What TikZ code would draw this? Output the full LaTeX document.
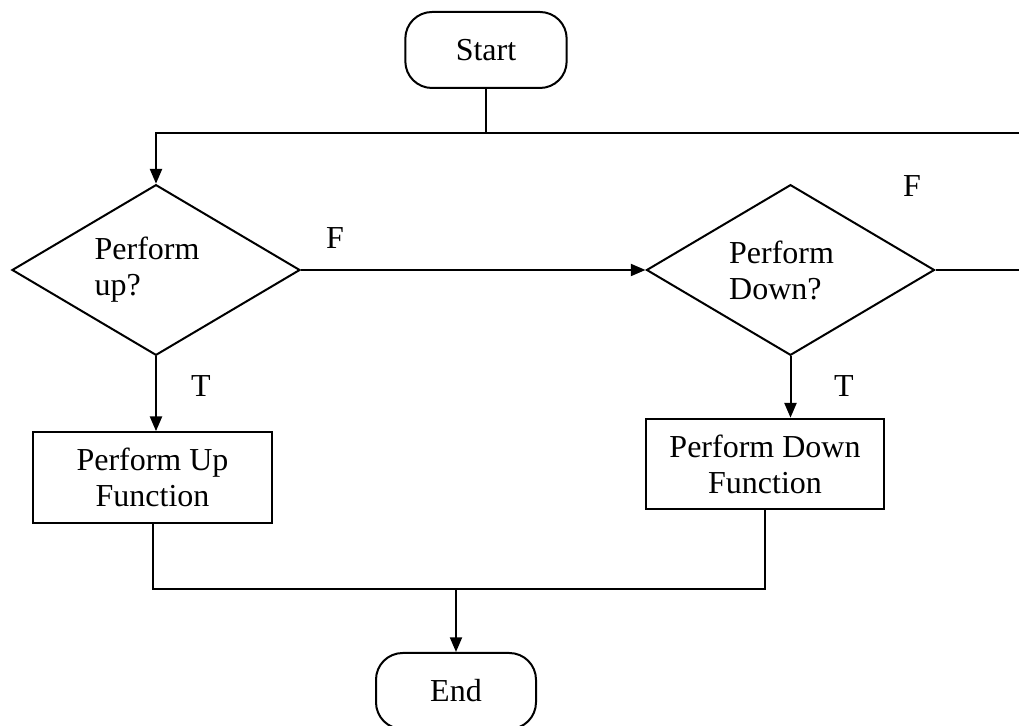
\documentclass[tikz,border=0pt]{standalone}
\usepackage{fontspec}
\setmainfont{Liberation Serif}
\usetikzlibrary{arrows.meta,shapes.geometric}

\begin{document}
\begin{tikzpicture}[x=0.375pt,y=-0.375pt,font=\fontsize{12}{13.5}\selectfont]
    \tikzstyle{terminal}=[rectangle,draw,rounded corners=10pt,minimum width=60.5pt,minimum height=28.5pt]
	\tikzstyle{decision}=[diamond,draw,aspect=1.7,minimum width=108pt,minimum height=64pt,inner sep=0pt,text width=46pt,align=left]
	\tikzstyle{box}=[rectangle,draw,minimum width=89.5pt,minimum height=34pt,align=center]
	\tikzstyle{lbl}=[inner sep=0pt]
	\tikzstyle{flow}=[line width=0.75pt,-{Triangle[length=5.5pt,width=4.5pt]}]
	\tikzstyle{wire}=[line width=0.75pt]
	\useasboundingbox (0,0) rectangle (1019,726);
	\clip (0,0) rectangle (1019,726);
	\node (start) at (486,50) [terminal,wire] {Start};
	\node (up) at (156,270) [decision,wire] {Perform\\up?};
	\node (down) at (790.5,270) [decision,wire] {Perform\\Down?};
	\node (upfn) at (152.5,477.5) [box,wire] {Perform Up\\Function};
	\node (downfn) at (765,464) [box,wire] {Perform Down\\Function};
	\node (end) at (456,691) [terminal,wire,minimum width=60pt] {End};
	% branch labels
	\node (fup) at (335,238) [lbl] {F};
	\node (fdown) at (912,186) [lbl] {F};
	\node (tup) at (201,386) [lbl] {T};
	\node (tdown) at (844,386) [lbl] {T};
	% loop back and merge points
	\coordinate (loop) at (156,133);
	\coordinate (edge) at (1030,133);
	\coordinate (merge) at (456,589);
	\draw [wire] (start.south) -- (start.south |- loop);
	\draw [flow] (down.east) -- (down.east -| edge) -- (edge) -- (loop) -- (up.north);
	\draw [flow] (up.east) -- (down.west);
	\draw [flow] (up.south) -- (up.south |- upfn.north);
	\draw [flow] (down.south) -- (down.south |- downfn.north);
	\draw [wire] (upfn.south) |- (merge) -| (downfn.south);
	\draw [flow] (merge) -- (end.north);
  \end{tikzpicture}
\end{document}
